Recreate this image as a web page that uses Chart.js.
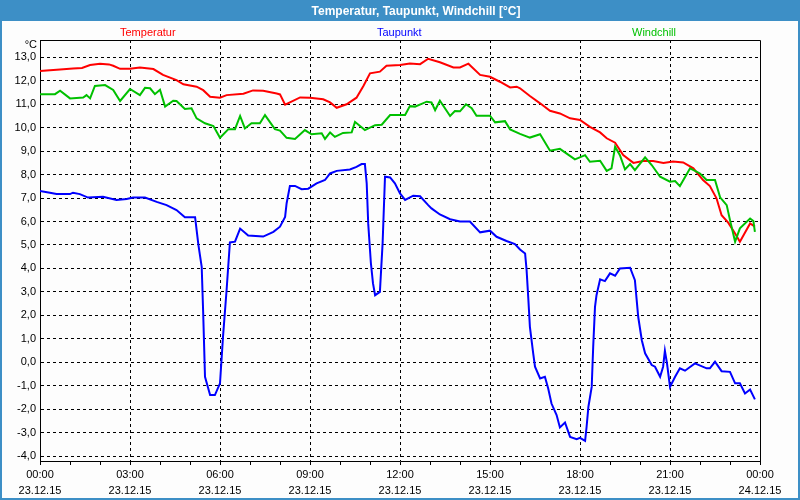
<!DOCTYPE html>
<html>
<head>
<meta charset="utf-8">
<script src="https://cdn.jsdelivr.net/npm/chart.js@4.4.0/dist/chart.umd.min.js"></script>
<style>
  html, body { margin: 0; padding: 0; background: #fff; }
  #wrap { width: 800px; height: 500px; }
</style>
</head>
<body>
<div id="wrap"><canvas id="myChart" width="800" height="500"></canvas></div>
<script>
// Temperatur (hours since 23.12.15 00:00, °C)
const tempHours = [0, 0.33, 0.56, 1.1, 1.4, 1.67, 2.0, 2.3, 2.44, 2.67, 3.0, 3.33, 3.78, 4.1, 4.55, 4.78, 5.22, 5.44, 5.67, 6.0,
  6.22, 6.78, 7.1, 7.44, 7.89, 8.0, 8.17, 8.33, 8.67, 9.0, 9.44, 9.67, 9.89, 10.22, 10.55, 10.78, 11.0, 11.33, 11.55, 12.0,
  12.33, 12.67, 12.94, 13.33, 13.78, 14.0, 14.28, 14.67, 15.0, 15.33, 15.67, 15.89, 16.0, 16.33, 16.67, 17.0, 17.33, 17.67, 18.0, 18.33,
  18.67, 18.89, 19.17, 19.44, 19.78, 20.1, 20.44, 20.78, 21.1, 21.44, 21.78, 22.1, 22.33, 22.55, 22.72, 22.94, 23.17, 23.33, 23.67, 23.83];
const tempValues = [12.42, 12.45, 12.47, 12.53, 12.55, 12.67, 12.73, 12.7, 12.64, 12.51, 12.51, 12.57, 12.5, 12.25, 12.03, 11.85, 11.75, 11.6, 11.32, 11.28,
  11.39, 11.45, 11.59, 11.58, 11.46, 11.42, 10.98, 11.08, 11.29, 11.28, 11.21, 11.08, 10.85, 11.0, 11.28, 11.78, 12.32, 12.39, 12.64, 12.67,
  12.74, 12.71, 12.94, 12.79, 12.57, 12.57, 12.73, 12.25, 12.17, 11.96, 11.72, 11.75, 11.68, 11.35, 11.04, 10.72, 10.61, 10.4, 10.33, 10.04,
  9.8, 9.55, 9.36, 8.83, 8.5, 8.58, 8.58, 8.5, 8.56, 8.52, 8.27, 7.77, 7.51, 6.99, 6.27, 5.95, 5.49, 5.14, 5.92, 5.78];

// Taupunkt
const dewHours = [0, 0.33, 0.55, 1.0, 1.1, 1.33, 1.6, 2.1, 2.55, 2.89, 3.1, 3.5, 3.89, 4.22, 4.55, 4.83, 5.17, 5.28, 5.39, 5.44,
  5.5, 5.67, 5.83, 6.0, 6.1, 6.22, 6.33, 6.5, 6.67, 6.94, 7.44, 7.78, 8.0, 8.17, 8.22, 8.33, 8.5, 8.72, 8.94, 9.22,
  9.5, 9.67, 9.89, 10.33, 10.55, 10.72, 10.83, 10.89, 10.94, 11.03, 11.1, 11.17, 11.33, 11.42, 11.5, 11.67, 11.83, 12.0, 12.17, 12.44,
  12.67, 12.94, 13.05, 13.33, 13.67, 14.0, 14.33, 14.67, 15.0, 15.22, 15.55, 15.83, 16.0, 16.17, 16.22, 16.28, 16.33, 16.44, 16.5, 16.67,
  16.83, 16.94, 17.05, 17.22, 17.33, 17.5, 17.67, 17.89, 18.0, 18.17, 18.22, 18.28, 18.39, 18.44, 18.5, 18.55, 18.67, 18.83, 19.0, 19.17,
  19.33, 19.67, 19.83, 19.94, 20.06, 20.17, 20.39, 20.5, 20.67, 20.77, 20.83, 20.9, 21.0, 21.17, 21.33, 21.5, 21.83, 22.22, 22.33, 22.5,
  22.72, 23.0, 23.17, 23.33, 23.5, 23.67, 23.83];
const dewValues = [7.3, 7.23, 7.17, 7.17, 7.23, 7.17, 7.02, 7.06, 6.92, 6.96, 7.02, 7.02, 6.84, 6.7, 6.49, 6.18, 6.18, 5.0, 4.07, 2.08,
  -0.62, -1.4, -1.4, -0.9, 1.08, 3.08, 5.11, 5.14, 5.7, 5.4, 5.36, 5.56, 5.78, 6.2, 6.77, 7.52, 7.52, 7.38, 7.4, 7.63,
  7.77, 8.05, 8.16, 8.22, 8.33, 8.45, 8.45, 7.63, 5.92, 4.22, 3.36, 2.86, 3.0, 5.07, 7.91, 7.88, 7.63, 7.2, 6.92, 7.1,
  7.08, 6.7, 6.56, 6.3, 6.1, 6.0, 6.0, 5.54, 5.61, 5.35, 5.17, 5.04, 4.81, 4.64, 3.93, 2.65, 1.51, 0.38, -0.19, -0.69,
  -0.62, -1.12, -1.76, -2.25, -2.78, -2.57, -3.18, -3.28, -3.22, -3.35, -2.75, -1.9, -1.05, 0.66, 2.36, 2.86, 3.54, 3.46, 3.79, 3.69,
  4.0, 4.03, 3.5, 1.94, 0.94, 0.38, -0.12, -0.19, -0.62, -0.19, 0.49, -0.05, -1.05, -0.62, -0.26, -0.36, -0.05, -0.26, -0.26, 0.02,
  -0.38, -0.41, -0.9, -0.9, -1.33, -1.16, -1.58];

// Windchill
const windHours = [0, 0.5, 0.67, 1.0, 1.44, 1.55, 1.67, 1.83, 2.17, 2.44, 2.67, 3.0, 3.33, 3.5, 3.67, 3.83, 4.0, 4.17, 4.44, 4.55,
  4.83, 5.05, 5.22, 5.5, 5.78, 6.0, 6.28, 6.5, 6.67, 6.83, 7.05, 7.33, 7.5, 7.83, 8.0, 8.22, 8.5, 8.83, 9.05, 9.39,
  9.5, 9.67, 9.83, 10.1, 10.39, 10.5, 10.83, 11.17, 11.39, 11.67, 12.17, 12.33, 12.5, 12.89, 13.05, 13.17, 13.33, 13.67, 13.83, 14.0,
  14.2, 14.39, 14.55, 15.0, 15.17, 15.5, 15.67, 16.0, 16.33, 16.67, 17.0, 17.33, 17.83, 18.17, 18.33, 18.67, 18.89, 19.05, 19.17, 19.33,
  19.5, 19.67, 19.83, 20.17, 20.39, 20.67, 21.0, 21.17, 21.33, 21.67, 22.0, 22.22, 22.5, 22.67, 22.89, 23.0, 23.17, 23.33, 23.67, 23.78, 23.83];
const windValues = [11.43, 11.43, 11.58, 11.25, 11.29, 11.39, 11.25, 11.78, 11.82, 11.61, 11.14, 11.65, 11.39, 11.7, 11.68, 11.43, 11.62, 10.9, 11.15, 11.14,
  10.8, 10.83, 10.4, 10.19, 10.07, 9.57, 9.94, 9.94, 10.5, 9.97, 10.19, 10.19, 10.54, 9.94, 9.88, 9.57, 9.52, 9.9, 9.72, 9.76,
  9.52, 9.8, 9.61, 9.78, 9.8, 10.25, 9.9, 10.11, 10.13, 10.54, 10.54, 10.92, 10.9, 11.11, 11.08, 10.75, 11.15, 10.5, 10.71, 10.7,
  11.0, 10.83, 10.51, 10.51, 10.23, 10.28, 9.93, 9.74, 9.58, 9.72, 9.02, 9.1, 8.65, 8.83, 8.55, 8.59, 8.16, 8.27, 9.19, 8.83,
  8.22, 8.45, 8.19, 8.74, 8.41, 7.91, 7.7, 7.73, 7.51, 8.27, 8.05, 7.77, 7.77, 7.03, 6.7, 6.06, 5.14, 5.71, 6.13, 6.02, 5.56];

// axis labels
const timeLabels = ['00:00', '03:00', '06:00', '09:00', '12:00', '15:00', '18:00', '21:00', '00:00'];
const dateLabels = ['23.12.15', '23.12.15', '23.12.15', '23.12.15', '23.12.15', '23.12.15', '23.12.15', '23.12.15', '24.12.15'];
const yTicks = [-4, -3, -2, -1, 0, 1, 2, 3, 4, 5, 6, 7, 8, 9, 10, 11, 12, 13];
const seriesNames = ['Temperatur', 'Taupunkt', 'Windchill'];

const FONT = "'Liberation Sans', Arial, sans-serif";
const BLUE_BAR = '#3d8fc6';

function pairs(xs, ys) {
  return xs.map((h, i) => ({ x: h, y: ys[i] }));
}

const decor = {
  id: 'decor',
  beforeDraw(chart) {
    const c = chart.ctx;
    c.save();
    c.fillStyle = '#fdfdfd';
    c.fillRect(0, 0, chart.width, chart.height);
    c.fillStyle = BLUE_BAR;
    c.fillRect(0, 0, chart.width, 21);
    c.strokeStyle = BLUE_BAR;
    c.lineWidth = 2;
    c.strokeRect(1, 1, chart.width - 2, chart.height - 2);
    c.restore();
  },
  afterDraw(chart) {
    const c = chart.ctx;
    const a = chart.chartArea;
    c.save();
    // title
    c.fillStyle = '#fff';
    c.font = 'bold 12px ' + FONT;
    c.textAlign = 'center';
    c.textBaseline = 'alphabetic';
    c.fillText('Temperatur, Taupunkt, Windchill [°C]', 416, 15);
    // series names
    c.font = '11px ' + FONT;
    c.textAlign = 'left';
    const lx = [120, 377, 632];
    const cols = ['#ff0000', '#0000ff', '#00c000'];
    seriesNames.forEach((n, i) => {
      c.fillStyle = cols[i];
      c.fillText(n, lx[i], 36);
    });
    // unit
    c.fillStyle = '#000';
    c.textAlign = 'right';
    c.fillText('°C', 37, 48);
    // top + right border of plot
    c.strokeStyle = '#000';
    c.lineWidth = 1;
    c.beginPath();
    c.moveTo(Math.round(a.left) + 0.5, Math.round(a.top) + 0.5);
    c.lineTo(Math.round(a.right) + 0.5, Math.round(a.top) + 0.5);
    c.lineTo(Math.round(a.right) + 0.5, Math.round(a.bottom) + 0.5);
    c.stroke();
    c.restore();
  }
};

Chart.defaults.font.family = FONT;
Chart.defaults.font.size = 11;
Chart.defaults.color = '#000';

const ctx = document.getElementById('myChart');
new Chart(ctx, {
  type: 'line',
  data: {
    datasets: [
      { label: seriesNames[0], data: pairs(tempHours, tempValues), borderColor: '#ff0000', order: 1 },
      { label: seriesNames[1], data: pairs(dewHours, dewValues), borderColor: '#0000ff', order: 2 },
      { label: seriesNames[2], data: pairs(windHours, windValues), borderColor: '#00c000', order: 0 }
    ]
  },
  options: {
    responsive: false,
    animation: false,
    devicePixelRatio: 1,
    layout: { padding: { top: 40, right: 40, left: 0, bottom: 0 } },
    elements: {
      line: { borderWidth: 2, tension: 0, fill: false },
      point: { radius: 0 }
    },
    plugins: {
      legend: { display: false },
      title: { display: false },
      tooltip: { enabled: false }
    },
    scales: {
      x: {
        type: 'linear',
        min: 0,
        max: 24,
        afterBuildTicks(scale) {
          const t = [];
          for (let h = 0; h <= 24; h++) t.push({ value: h });
          scale.ticks = t;
        },
        afterFit(scale) { scale.height = 39; },
        ticks: {
          autoSkip: false,
          maxRotation: 0,
          padding: 2,
          font: { size: 11, lineHeight: 16 / 11 },
          callback(v) {
            if (v % 3 !== 0) return '';
            return [timeLabels[v / 3], dateLabels[v / 3]];
          }
        },
        grid: {
          color(c) {
            const v = c.tick ? c.tick.value : 0;
            return (v % 3 === 0 && v > 0 && v < 24) ? '#000' : 'rgba(0,0,0,0)';
          },
          lineWidth: 1,
          tickLength: 4,
          tickColor: '#000',
          tickWidth: 1
        },
        border: { display: true, color: '#000', width: 1, dash: [3, 3] }
      },
      y: {
        type: 'linear',
        min: -4.21,
        max: 13.74,
        afterBuildTicks(scale) {
          scale.ticks = yTicks.map(v => ({ value: v }));
        },
        afterFit(scale) { scale.width = 40; },
        ticks: {
          padding: 4,
          callback(v) { return v.toFixed(1).replace('.', ','); }
        },
        grid: {
          color: '#000',
          lineWidth: 1,
          drawTicks: false
        },
        border: { display: true, color: '#000', width: 1, dash: [3, 3] }
      }
    }
  },
  plugins: [decor]
});
</script>
</body>
</html>
